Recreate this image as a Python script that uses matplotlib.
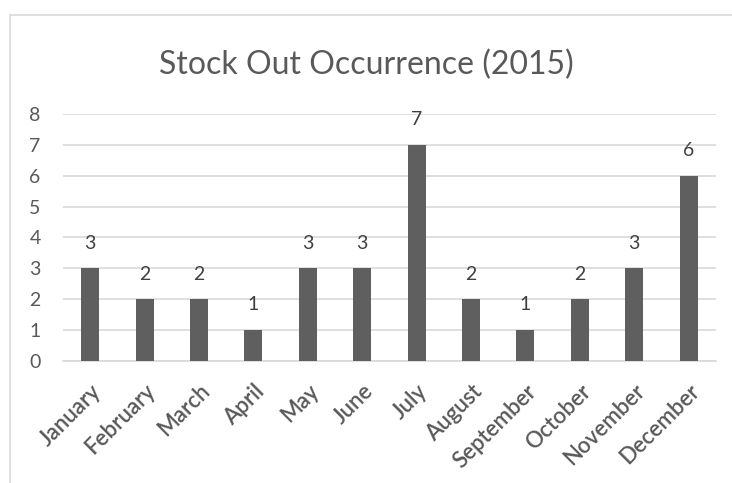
import matplotlib.pyplot as plt
from matplotlib.patches import Rectangle

months = ["January", "February", "March", "April", "May", "June", "July",
          "August", "September", "October", "November", "December"]
occurrences = [3, 2, 2, 1, 3, 3, 7, 2, 1, 2, 3, 6]
yticks = [0, 1, 2, 3, 4, 5, 6, 7, 8]

plt.rcParams['font.family'] = ['Lato', 'DejaVu Sans']

fig = plt.figure(figsize=(7.32, 4.83), dpi=100)
ax = fig.add_axes([0.086, 0.2526, 0.892, 0.5114])

x = range(len(months))
ax.bar(x, occurrences, width=0.33, color="#5f5f5f", zorder=3)
for xi, v in zip(x, occurrences):
    ax.annotate(str(v), (xi, v), xytext=(0, 12), textcoords="offset points",
                ha="center", va="bottom", fontsize=14, color="#404040")

ax.set_xlim(-0.5, len(months) - 0.5)
ax.set_ylim(0, 8)
ax.set_yticks(yticks)
ax.set_yticklabels([str(t) for t in yticks], fontsize=14, color="#595959")
ax.set_xticks(list(x))
ax.set_xticklabels(months, rotation=45, ha="right", va="top",
                   rotation_mode="anchor", fontsize=16, color="#595959",
                   fontweight="semibold")
ax.tick_params(axis="both", length=0)
ax.tick_params(axis="y", pad=16)
ax.tick_params(axis="x", pad=14)
ax.grid(axis="y", color="#d9d9d9", linewidth=1.2, zorder=0)
for s in ["top", "right", "left"]:
    ax.spines[s].set_visible(False)
ax.spines["bottom"].set_color("#d9d9d9")
ax.spines["bottom"].set_linewidth(1.2)

fig.text(0.5, 0.865, "Stock Out Occurrence (2015)", ha="center", va="center",
         fontsize=23, color="#595959")

# chart frame
fig.patches.append(Rectangle((10 / 732, -0.1), 1.2, 1 - 15 / 483 + 0.1,
                             transform=fig.transFigure, fill=False,
                             edgecolor="#d9d9d9", linewidth=1.2))

fig.savefig("out.png", dpi=100)
